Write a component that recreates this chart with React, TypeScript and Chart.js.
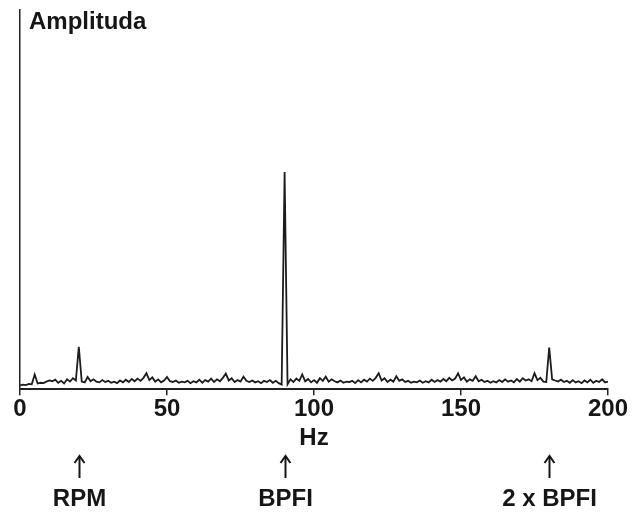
import React, { useEffect, useRef } from "react";
import { Chart, registerables } from "chart.js";

Chart.register(...registerables);

// Frequency axis (Hz)
const FREQ_START = 0;
const FREQ_STEP = 1;
const X_MIN = 0;
const X_MAX = 200;
const X_STEP = 50;
const Y_MIN = 0;
const Y_MAX = 100;

// Amplitude spectrum (arbitrary units), one value per Hz from 0 to 200
const amplitude: number[] = [
  1.0, 1.2, 1.1, 1.4, 1.3, 3.9, 1.5, 1.7, 1.6, 2.0,
  2.3, 2.1, 2.5, 1.7, 2.2, 1.5, 2.6, 2.0, 2.9, 2.3,
  11.2, 2.0, 1.8, 3.2, 2.1, 2.6, 2.0, 1.8, 2.4, 1.9,
  2.2, 1.7, 2.0, 1.6, 2.3, 1.8, 2.5, 1.9, 2.7, 2.1,
  2.8, 2.2, 3.0, 4.2, 2.4, 3.1, 2.0, 2.6, 1.8, 2.3,
  3.2, 2.1, 1.9, 2.3, 1.7, 2.0, 1.8, 2.2, 1.6, 2.1,
  1.8, 2.5, 1.7, 2.4, 2.0, 2.8, 1.9, 2.6, 2.1, 3.0,
  4.1, 2.3, 2.9, 1.9, 2.4, 2.0, 3.3, 2.2, 1.9, 2.3,
  1.8, 2.1, 1.6, 2.2, 1.9, 2.4, 1.7, 2.2, 1.6, 1.2,
  57.3, 1.3, 2.6, 1.9, 2.8, 2.2, 3.9, 2.1, 2.7, 1.8,
  2.4, 1.7, 2.9, 2.2, 3.3, 2.0, 2.6, 2.1, 1.8, 2.3,
  1.7, 2.0, 1.9, 2.2, 1.6, 2.4, 1.8, 2.5, 2.0, 2.8,
  2.2, 3.0, 4.2, 2.3, 2.9, 1.9, 2.5, 2.0, 3.4, 2.2,
  2.6, 1.9, 2.2, 1.7, 2.0, 1.8, 2.3, 1.7, 2.1, 1.8,
  2.5, 1.9, 2.4, 2.0, 2.7, 2.1, 3.0, 2.3, 2.8, 4.2,
  2.4, 3.1, 2.0, 2.6, 2.2, 3.4, 2.1, 2.5, 1.9, 2.2,
  1.7, 2.1, 1.8, 2.4, 1.9, 2.6, 2.0, 2.3, 1.8, 2.7,
  2.0, 2.9, 2.3, 2.6, 2.1, 4.2, 2.4, 3.0, 2.0, 1.9,
  11.0, 2.6, 2.3, 2.0, 2.5, 1.9, 2.2, 1.7, 2.4, 1.8,
  2.1, 1.6, 2.3, 1.8, 2.5, 1.7, 2.2, 1.9, 2.6, 1.8,
  2.0,
];

// Marked frequencies below the axis
const markerFreqs: number[] = [20, 90, 180];
const markerLabels: string[] = ["RPM", "BPFI", "2 x BPFI"];

const Y_TITLE = "Amplituda";
const X_TITLE = "Hz";

const FONT = "'Liberation Sans', Arial, sans-serif";
const INK = "#161616";

const overlayPlugin = {
  id: "overlay",
  afterDraw(chart: any) {
    const { ctx, chartArea, scales } = chart;
    const xs = scales.x;
    ctx.save();
    ctx.fillStyle = INK;
    ctx.strokeStyle = INK;
    ctx.font = `bold 24px ${FONT}`;
    ctx.textBaseline = "alphabetic";
    // y title
    ctx.textAlign = "left";
    ctx.fillText(Y_TITLE, chartArea.left + 9, chartArea.top + 19);
    // x title
    ctx.textAlign = "center";
    ctx.fillText(X_TITLE, xs.getPixelForValue(100), 445);
    // markers
    ctx.lineWidth = 2;
    markerFreqs.forEach((f, i) => {
      const px = Math.round(xs.getPixelForValue(f)) + 0.5;
      ctx.beginPath();
      ctx.moveTo(px, 478);
      ctx.lineTo(px, 457);
      ctx.stroke();
      ctx.beginPath();
      ctx.moveTo(px - 5, 463);
      ctx.lineTo(px, 456);
      ctx.lineTo(px + 5, 463);
      ctx.stroke();
      ctx.fillText(markerLabels[i], px, 506);
    });
    ctx.restore();
  },
};

export default function App() {
  const canvasRef = useRef<HTMLCanvasElement | null>(null);

  useEffect(() => {
    const canvas = canvasRef.current;
    if (!canvas) return;
    const points = amplitude.map((v, i) => ({ x: FREQ_START + i * FREQ_STEP, y: v }));
    const chart = new Chart(canvas, {
      type: "line",
      data: {
        datasets: [
          {
            data: points,
            borderColor: "#1c1c1c",
            borderWidth: 1.8,
            pointRadius: 0,
            tension: 0,
            fill: false,
          },
        ],
      },
      options: {
        animation: false,
        responsive: false,
        maintainAspectRatio: false,
        layout: { padding: { left: 20, right: 24, top: 10, bottom: 93 } },
        plugins: {
          legend: { display: false },
          tooltip: { enabled: false },
          title: { display: false },
        },
        scales: {
          x: {
            type: "linear",
            min: X_MIN,
            max: X_MAX,
            ticks: {
              stepSize: X_STEP,
              color: INK,
              font: { family: FONT, size: 24, weight: "bold", lineHeight: 1.2 },
              padding: 0,
              maxRotation: 0,
            },
            grid: {
              display: true,
              drawOnChartArea: false,
              drawTicks: true,
              tickLength: 6,
              color: "#222",
              lineWidth: 1.5,
            },
            border: { display: true, color: "#222", width: 2 },
          },
          y: {
            min: Y_MIN,
            max: Y_MAX,
            ticks: { display: false },
            grid: { display: false, drawTicks: false },
            border: { display: true, color: "#222", width: 1.5 },
          },
        },
      },
      plugins: [overlayPlugin],
    });
    return () => chart.destroy();
  }, []);

  return (
    <div style={{ position: "fixed", left: 0, top: 0, width: 632, height: 517, background: "#fff" }}>
      <canvas ref={canvasRef} width={632} height={517} style={{ width: 632, height: 517 }} />
    </div>
  );
}
